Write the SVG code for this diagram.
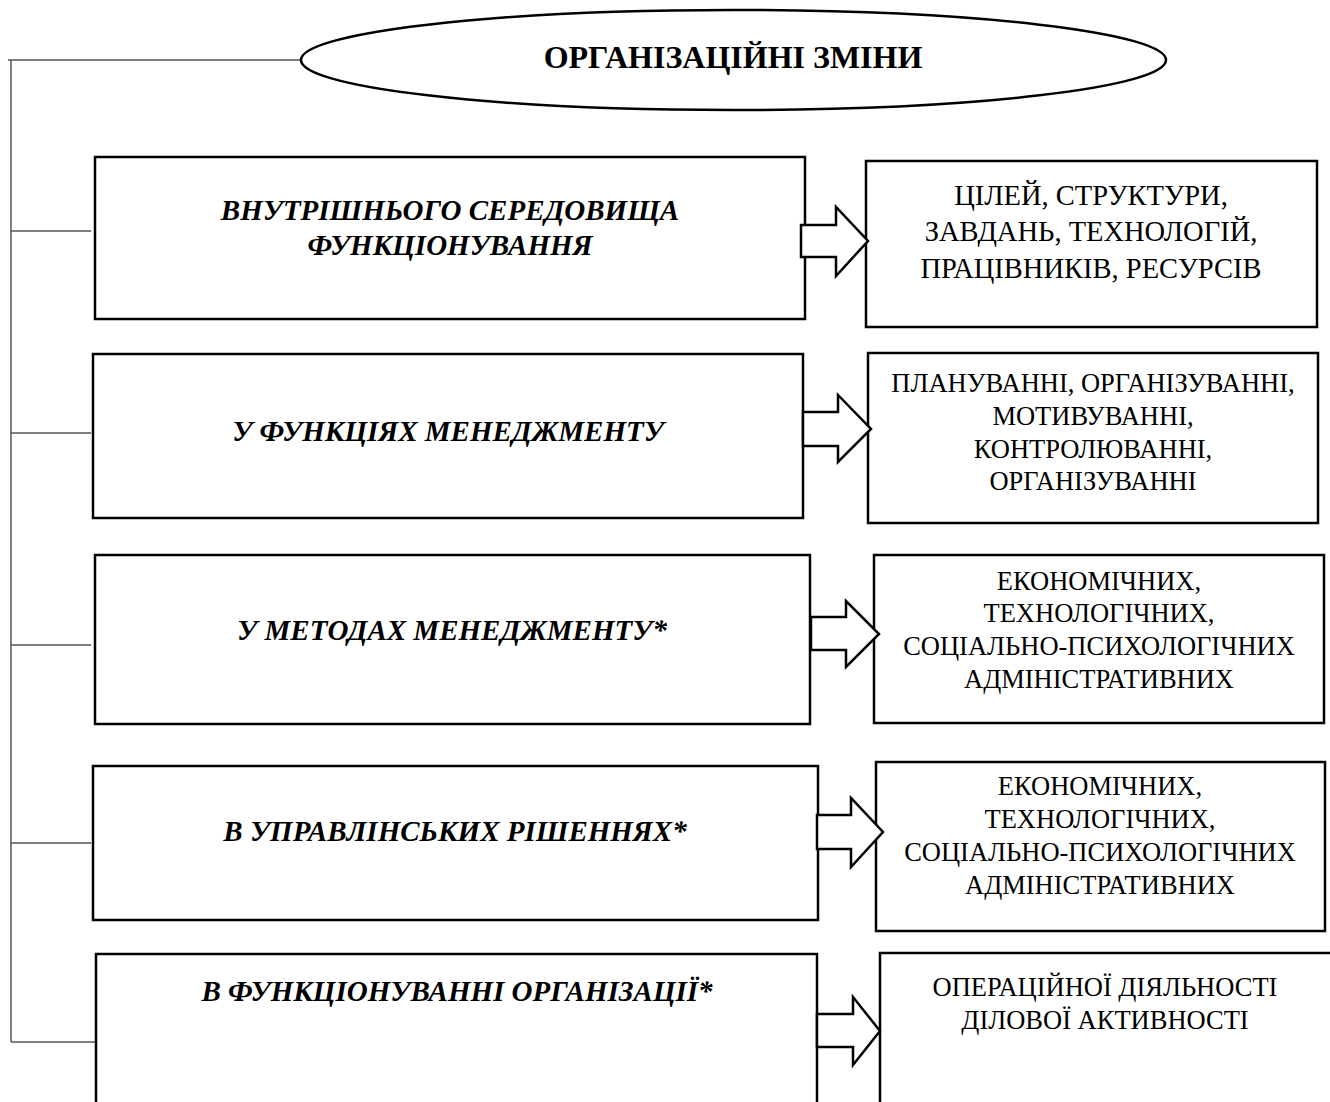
<svg xmlns="http://www.w3.org/2000/svg" width="1330" height="1102" viewBox="0 0 1330 1102">
<style>
.box{fill:#fff;stroke:#000;stroke-width:2.5}
.arrow{fill:#fff;stroke:#000;stroke-width:2.5;stroke-linejoin:miter}
.conn{fill:none;stroke:#555;stroke-width:1.5}
.lt{font-family:"Liberation Serif","Times New Roman",serif;font-size:29px;font-weight:bold;font-style:italic;text-anchor:middle;fill:#000}
.rt{font-family:"Liberation Serif","Times New Roman",serif;font-size:26.5px;text-anchor:middle;fill:#000}
.rt1{font-size:28.5px}
.title{font-family:"Liberation Serif","Times New Roman",serif;font-size:32px;font-weight:bold;text-anchor:middle;fill:#000}
</style>
<rect width="1330" height="1102" fill="#fff"/>
<g id="connectors">
<polyline class="conn" points="301,60 8,60"/>
<line class="conn" x1="11" y1="60" x2="11" y2="1042"/>
<line class="conn" x1="11" y1="231" x2="91" y2="231"/>
<line class="conn" x1="11" y1="433" x2="91" y2="433"/>
<line class="conn" x1="11" y1="645" x2="91" y2="645"/>
<line class="conn" x1="11" y1="843" x2="91" y2="843"/>
<line class="conn" x1="11" y1="1042" x2="96" y2="1042"/>
</g>
<g id="title">
<ellipse cx="733.5" cy="60" rx="432.5" ry="50" fill="#fff" stroke="#000" stroke-width="2.5"/>
<text class="title" x="733" y="68">ОРГАНІЗАЦІЙНІ ЗМІНИ</text>
</g>
<g id="n1">
<rect class="box" x="95" y="157" width="710" height="162"/>
<text class="lt" x="450" y="220">ВНУТРІШНЬОГО СЕРЕДОВИЩА</text>
<text class="lt" x="450" y="255">ФУНКЦІОНУВАННЯ</text>
</g>
<g id="r1">
<rect class="box" x="866" y="161" width="451" height="166"/>
<text class="rt rt1" x="1091" y="205">ЦІЛЕЙ, СТРУКТУРИ,</text>
<text class="rt rt1" x="1091" y="241">ЗАВДАНЬ, ТЕХНОЛОГІЙ,</text>
<text class="rt rt1" x="1091" y="278">ПРАЦІВНИКІВ, РЕСУРСІВ</text>
</g>
<g id="n2">
<rect class="box" x="93" y="354" width="710" height="164"/>
<text class="lt" x="448" y="441">У ФУНКЦІЯХ МЕНЕДЖМЕНТУ</text>
</g>
<g id="r2">
<rect class="box" x="868" y="353" width="450" height="170"/>
<text class="rt" x="1093" y="392">ПЛАНУВАННІ, ОРГАНІЗУВАННІ,</text>
<text class="rt" x="1093" y="425">МОТИВУВАННІ,</text>
<text class="rt" x="1093" y="458">КОНТРОЛЮВАННІ,</text>
<text class="rt" x="1093" y="490">ОРГАНІЗУВАННІ</text>
</g>
<g id="n3">
<rect class="box" x="95" y="555" width="715" height="169"/>
<text class="lt" x="452" y="640">У МЕТОДАХ МЕНЕДЖМЕНТУ*</text>
</g>
<g id="r3">
<rect class="box" x="874" y="555" width="450" height="168"/>
<text class="rt" x="1099" y="590">ЕКОНОМІЧНИХ,</text>
<text class="rt" x="1099" y="622">ТЕХНОЛОГІЧНИХ,</text>
<text class="rt" x="1099" y="655">СОЦІАЛЬНО-ПСИХОЛОГІЧНИХ</text>
<text class="rt" x="1099" y="688">АДМІНІСТРАТИВНИХ</text>
</g>
<g id="n4">
<rect class="box" x="93" y="766" width="725" height="154"/>
<text class="lt" x="455" y="841">В УПРАВЛІНСЬКИХ РІШЕННЯХ*</text>
</g>
<g id="r4">
<rect class="box" x="876" y="762" width="449" height="169"/>
<text class="rt" x="1100" y="795">ЕКОНОМІЧНИХ,</text>
<text class="rt" x="1100" y="828">ТЕХНОЛОГІЧНИХ,</text>
<text class="rt" x="1100" y="861">СОЦІАЛЬНО-ПСИХОЛОГІЧНИХ</text>
<text class="rt" x="1100" y="894">АДМІНІСТРАТИВНИХ</text>
</g>
<g id="n5">
<rect class="box" x="96" y="954" width="721" height="160"/>
<text class="lt" x="457" y="1001">В ФУНКЦІОНУВАННІ ОРГАНІЗАЦІЇ*</text>
</g>
<g id="r5">
<rect class="box" x="880" y="953" width="460" height="160"/>
<text class="rt" x="1105" y="996">ОПЕРАЦІЙНОЇ ДІЯЛЬНОСТІ</text>
<text class="rt" x="1105" y="1029">ДІЛОВОЇ АКТИВНОСТІ</text>
</g>
<g id="arrows">
<polygon class="arrow" points="801,225 836,225 836,207 868,241 836,276 836,257 801,257"/>
<polygon class="arrow" points="803,412 838,412 838,395 871,429 838,462 838,446 803,446"/>
<polygon class="arrow" points="811,617 846,617 846,601 879,634 846,667 846,650 811,650"/>
<polygon class="arrow" points="817,815 851,815 851,798 883,832 851,867 851,849 817,849"/>
<polygon class="arrow" points="817,1014 853,1014 853,997 880,1031 853,1065 853,1047 817,1047"/>
</g>
</svg>
